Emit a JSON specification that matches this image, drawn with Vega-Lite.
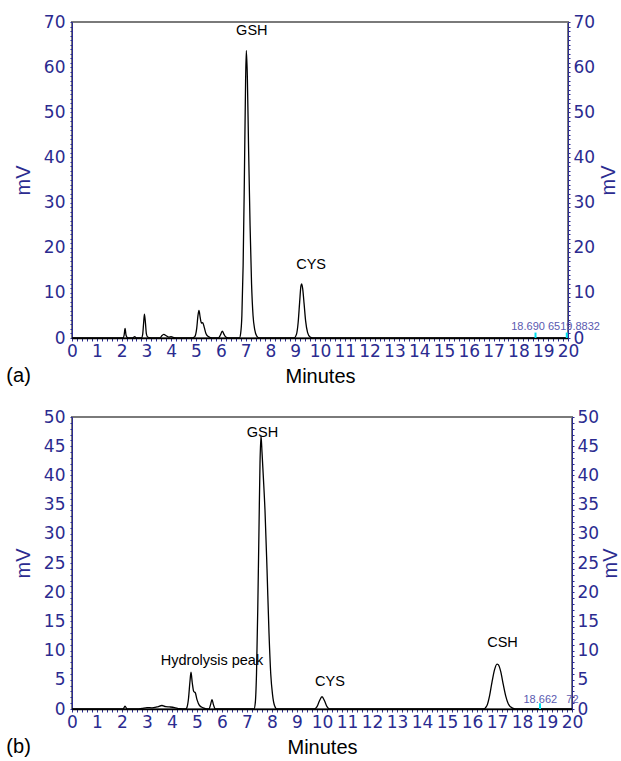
{
  "$schema": "https://vega.github.io/schema/vega-lite/v6.json",
  "background": "white",
  "padding": {"left": 5, "top": 12, "right": 5, "bottom": 5},
  "config": {
    "view": {"stroke": "#7a7a7a", "strokeWidth": 2},
    "font": "Liberation Sans",
    "axis": {
      "labelFont": "DejaVu Sans",
      "labelFontSize": 17,
      "labelColor": "#2b2b90",
      "titleFont": "Liberation Sans",
      "titleFontWeight": "normal",
      "grid": false,
      "labelOverlap": false,
      "labelFlush": false
    },
    "title": {"font": "Liberation Sans", "fontWeight": "normal", "fontSize": 20, "color": "black"}
  },
  "datasets": {
    "a": [
      {"t": 0, "v": 0}, {"t": 2.05, "v": 0}, {"t": 2.1, "v": 0.6}, {"t": 2.14, "v": 2.1}, {"t": 2.18, "v": 0.6}, {"t": 2.23, "v": 0.1}, {"t": 2.3, "v": 0},
      {"t": 2.45, "v": 0}, {"t": 2.53, "v": 0.3}, {"t": 2.6, "v": 0},
      {"t": 2.8, "v": 0}, {"t": 2.85, "v": 0.8}, {"t": 2.89, "v": 3.5}, {"t": 2.92, "v": 5.3}, {"t": 2.96, "v": 3.4}, {"t": 3.0, "v": 0.9}, {"t": 3.05, "v": 0.2}, {"t": 3.1, "v": 0.1}, {"t": 3.3, "v": 0},
      {"t": 3.55, "v": 0}, {"t": 3.62, "v": 0.5}, {"t": 3.7, "v": 0.8}, {"t": 3.8, "v": 0.5}, {"t": 3.9, "v": 0.2}, {"t": 4.0, "v": 0.3}, {"t": 4.1, "v": 0.1}, {"t": 4.3, "v": 0},
      {"t": 4.85, "v": 0}, {"t": 4.95, "v": 0.3}, {"t": 5.03, "v": 2.2}, {"t": 5.08, "v": 5.0}, {"t": 5.12, "v": 6.1}, {"t": 5.17, "v": 4.5}, {"t": 5.22, "v": 3.3}, {"t": 5.27, "v": 3.4}, {"t": 5.33, "v": 2.4}, {"t": 5.4, "v": 1.0}, {"t": 5.5, "v": 0.3}, {"t": 5.65, "v": 0},
      {"t": 5.9, "v": 0}, {"t": 5.98, "v": 0.6}, {"t": 6.06, "v": 1.5}, {"t": 6.13, "v": 0.8}, {"t": 6.2, "v": 0.2}, {"t": 6.3, "v": 0},
      {"t": 6.75, "v": 0}, {"t": 6.8, "v": 1}, {"t": 6.85, "v": 5}, {"t": 6.9, "v": 16}, {"t": 6.95, "v": 35}, {"t": 7.0, "v": 57}, {"t": 7.03, "v": 63.7}, {"t": 7.07, "v": 58}, {"t": 7.12, "v": 42}, {"t": 7.18, "v": 25}, {"t": 7.24, "v": 12}, {"t": 7.3, "v": 5}, {"t": 7.37, "v": 1.8}, {"t": 7.45, "v": 0.4}, {"t": 7.55, "v": 0},
      {"t": 8.95, "v": 0}, {"t": 9.05, "v": 0.8}, {"t": 9.12, "v": 3.5}, {"t": 9.18, "v": 8}, {"t": 9.23, "v": 11.5}, {"t": 9.26, "v": 12}, {"t": 9.3, "v": 11}, {"t": 9.36, "v": 7.5}, {"t": 9.42, "v": 3.8}, {"t": 9.5, "v": 1.2}, {"t": 9.6, "v": 0.2}, {"t": 9.7, "v": 0},
      {"t": 20, "v": 0}
    ],
    "b": [
      {"t": 0, "v": 0}, {"t": 2.05, "v": 0}, {"t": 2.12, "v": 0.5}, {"t": 2.2, "v": 0}, {"t": 2.6, "v": 0}, {"t": 2.8, "v": 0.1}, {"t": 3.0, "v": 0.25}, {"t": 3.2, "v": 0.2}, {"t": 3.4, "v": 0.35}, {"t": 3.6, "v": 0.6}, {"t": 3.75, "v": 0.4}, {"t": 3.9, "v": 0.35}, {"t": 4.1, "v": 0.25}, {"t": 4.3, "v": 0.05}, {"t": 4.55, "v": 0},
      {"t": 4.6, "v": 0.3}, {"t": 4.66, "v": 1.8}, {"t": 4.72, "v": 4.8}, {"t": 4.76, "v": 6.3}, {"t": 4.81, "v": 4.5}, {"t": 4.87, "v": 3.0}, {"t": 4.93, "v": 2.8}, {"t": 5.0, "v": 1.6}, {"t": 5.1, "v": 0.6}, {"t": 5.25, "v": 0.2}, {"t": 5.4, "v": 0},
      {"t": 5.48, "v": 0}, {"t": 5.54, "v": 0.7}, {"t": 5.6, "v": 1.6}, {"t": 5.66, "v": 0.7}, {"t": 5.73, "v": 0},
      {"t": 7.28, "v": 0}, {"t": 7.33, "v": 1}, {"t": 7.38, "v": 6}, {"t": 7.43, "v": 17}, {"t": 7.48, "v": 31}, {"t": 7.52, "v": 42}, {"t": 7.56, "v": 46.8}, {"t": 7.6, "v": 44}, {"t": 7.65, "v": 40}, {"t": 7.72, "v": 34}, {"t": 7.8, "v": 24}, {"t": 7.88, "v": 13}, {"t": 7.95, "v": 6}, {"t": 8.02, "v": 2.5}, {"t": 8.1, "v": 0.6}, {"t": 8.2, "v": 0},
      {"t": 9.7, "v": 0}, {"t": 9.8, "v": 0.4}, {"t": 9.9, "v": 1.4}, {"t": 10.0, "v": 2.1}, {"t": 10.1, "v": 1.4}, {"t": 10.2, "v": 0.4}, {"t": 10.3, "v": 0},
      {"t": 16.45, "v": 0}, {"t": 16.6, "v": 0.6}, {"t": 16.7, "v": 2.2}, {"t": 16.8, "v": 4.6}, {"t": 16.9, "v": 6.7}, {"t": 17.0, "v": 7.7}, {"t": 17.05, "v": 7.6}, {"t": 17.15, "v": 6.4}, {"t": 17.25, "v": 4.2}, {"t": 17.35, "v": 2.2}, {"t": 17.45, "v": 0.9}, {"t": 17.6, "v": 0.2}, {"t": 17.75, "v": 0},
      {"t": 20, "v": 0}
    ],
    "labels_a": [
      {"t": 7.25, "v": 67.9, "text": "GSH"},
      {"t": 9.64, "v": 16.2, "text": "CYS"}
    ],
    "small_a": [
      {"t": 19.5, "v": 2.5, "text": "18.690 6519.8832"}
    ],
    "marks_a": [
      {"t": 18.69, "v": 0, "v2": 1.2},
      {"t": 19.95, "v": 0, "v2": 1.2}
    ],
    "labels_b": [
      {"t": 7.62, "v": 47.3, "text": "GSH"},
      {"t": 5.6, "v": 8.3, "text": "Hydrolysis peak"},
      {"t": 10.32, "v": 4.7, "text": "CYS"},
      {"t": 17.22, "v": 11.3, "text": "CSH"}
    ],
    "small_b": [
      {"t": 19.16, "v": 1.6, "text": "18.662\u00a0\u00a0 72"}
    ],
    "marks_b": [
      {"t": 18.72, "v": 0, "v2": 1.0}
    ]
  },
  "spacing": 20,
  "vconcat": [
    {
      "width": 496,
      "height": 316,
      "title": {"text": "(a)", "orient": "bottom", "anchor": "start", "frame": "bounds", "offset": -20, "dx": -7},
      "resolve": {"axis": {"y": "independent"}},
      "layer": [
        {
          "data": {"name": "a"},
          "mark": {"type": "line", "color": "black", "strokeWidth": 1.3, "interpolate": "monotone"},
          "encoding": {
            "x": {"field": "t", "type": "quantitative", "scale": {"domain": [0, 20], "nice": false},
              "axis": {"title": "Minutes", "titleFontSize": 20, "titleColor": "black", "titlePadding": 7, "tickCount": 100, "labelExpr": "datum.value % 1 === 0 ? format(datum.value, 'd') : ''", "domainColor": "black", "domainWidth": 1.5, "tickColor": "#2b2b90", "tickSize": 3, "labelPadding": 2}},
            "y": {"field": "v", "type": "quantitative", "scale": {"domain": [0, 70], "nice": false},
              "axis": {"orient": "left", "title": "mV", "titleFontSize": 20, "titleColor": "#2b2b90", "titlePadding": 10, "tickCount": 70, "labelExpr": "datum.value % 10 === 0 ? format(datum.value, 'd') : ''", "domainColor": "#2b2b90", "tickColor": "#2b2b90", "tickSize": 2, "labelPadding": 5}}
          }
        },
        {
          "data": {"name": "marks_a"},
          "mark": {"type": "rule", "color": "#00e0ee", "strokeWidth": 2},
          "encoding": {
            "x": {"field": "t", "type": "quantitative"},
            "y": {"field": "v", "type": "quantitative",
              "axis": {"orient": "right", "title": "mV", "titleAngle": 270, "titleBaseline": "top", "titleFontSize": 20, "titleColor": "#2b2b90", "titlePadding": 4, "tickCount": 70, "labelExpr": "datum.value % 10 === 0 ? format(datum.value, 'd') : ''", "domainColor": "#2b2b90", "tickColor": "#2b2b90", "tickSize": 2, "labelPadding": 3}},
            "y2": {"field": "v2"}
          }
        },
        {
          "data": {"name": "labels_a"},
          "mark": {"type": "text", "fontSize": 14.5, "color": "black", "baseline": "middle", "align": "center"},
          "encoding": {
            "x": {"field": "t", "type": "quantitative"},
            "y": {"field": "v", "type": "quantitative", "axis": null},
            "text": {"field": "text"}
          }
        },
        {
          "data": {"name": "small_a"},
          "mark": {"type": "text", "fontSize": 11, "color": "#5a5ab0", "baseline": "middle", "align": "center"},
          "encoding": {
            "x": {"field": "t", "type": "quantitative"},
            "y": {"field": "v", "type": "quantitative", "axis": null},
            "text": {"field": "text"}
          }
        }
      ]
    },
    {
      "width": 500,
      "height": 292,
      "title": {"text": "(b)", "orient": "bottom", "anchor": "start", "frame": "bounds", "offset": -20, "dx": -7},
      "resolve": {"axis": {"y": "independent"}},
      "layer": [
        {
          "data": {"name": "b"},
          "mark": {"type": "line", "color": "black", "strokeWidth": 1.3, "interpolate": "monotone"},
          "encoding": {
            "x": {"field": "t", "type": "quantitative", "scale": {"domain": [0, 20], "nice": false},
              "axis": {"title": "Minutes", "titleFontSize": 20, "titleColor": "black", "titlePadding": 7, "tickCount": 100, "labelExpr": "datum.value % 1 === 0 ? format(datum.value, 'd') : ''", "domainColor": "black", "domainWidth": 1.5, "tickColor": "#2b2b90", "tickSize": 3, "labelPadding": 2}},
            "y": {"field": "v", "type": "quantitative", "scale": {"domain": [0, 50], "nice": false},
              "axis": {"orient": "left", "title": "mV", "titleFontSize": 20, "titleColor": "#2b2b90", "titlePadding": 10, "tickCount": 50, "labelExpr": "datum.value % 5 === 0 ? format(datum.value, 'd') : ''", "domainColor": "#2b2b90", "tickColor": "#2b2b90", "tickSize": 2, "labelPadding": 5}}
          }
        },
        {
          "data": {"name": "marks_b"},
          "mark": {"type": "rule", "color": "#00e0ee", "strokeWidth": 2},
          "encoding": {
            "x": {"field": "t", "type": "quantitative"},
            "y": {"field": "v", "type": "quantitative",
              "axis": {"orient": "right", "title": "mV", "titleAngle": 270, "titleBaseline": "top", "titleFontSize": 20, "titleColor": "#2b2b90", "titlePadding": 2, "tickCount": 50, "labelExpr": "datum.value % 5 === 0 ? format(datum.value, 'd') : ''", "domainColor": "#2b2b90", "tickColor": "#2b2b90", "tickSize": 2, "labelPadding": 3}},
            "y2": {"field": "v2"}
          }
        },
        {
          "data": {"name": "labels_b"},
          "mark": {"type": "text", "fontSize": 14.5, "color": "black", "baseline": "middle", "align": "center"},
          "encoding": {
            "x": {"field": "t", "type": "quantitative"},
            "y": {"field": "v", "type": "quantitative", "axis": null},
            "text": {"field": "text"}
          }
        },
        {
          "data": {"name": "small_b"},
          "mark": {"type": "text", "fontSize": 11, "color": "#5a5ab0", "baseline": "middle", "align": "center"},
          "encoding": {
            "x": {"field": "t", "type": "quantitative"},
            "y": {"field": "v", "type": "quantitative", "axis": null},
            "text": {"field": "text"}
          }
        }
      ]
    }
  ]
}
